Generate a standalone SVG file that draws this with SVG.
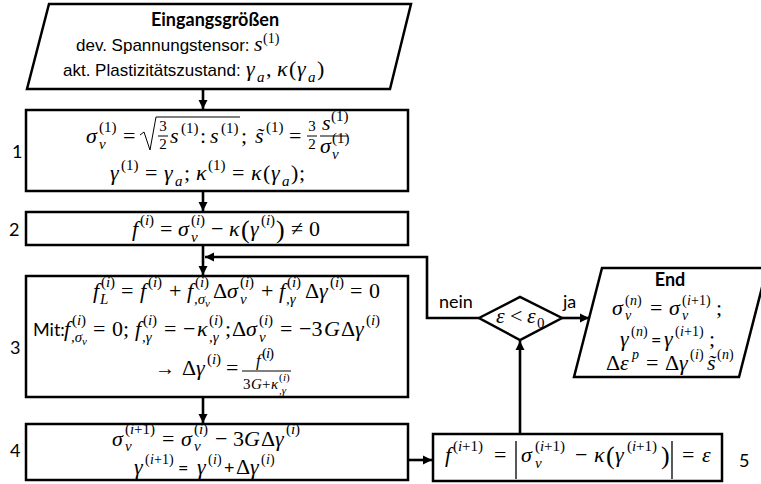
<svg xmlns="http://www.w3.org/2000/svg" width="761" height="484" viewBox="0 0 761 484">
<style>
.bx{fill:#fff;stroke:#000;stroke-width:2.5}
.ln{fill:none;stroke:#000;stroke-width:2.6}
.th{fill:none;stroke:#000;stroke-width:1}
.m{font-family:'Liberation Serif','Times New Roman',serif;font-size:22px;font-style:italic;fill:#000}
.u{font-style:normal}
.s{font-size:15px}
.e{font-size:14px}
.ss{font-size:11px}
.t{font-family:'Liberation Sans',Arial,sans-serif;font-size:17px;fill:#000}
.c{font-family:Lato,'Liberation Sans',sans-serif;font-size:18px;fill:#000}
.bd{font-weight:bold}
</style>
<defs>
<marker id="ah" markerUnits="userSpaceOnUse" markerWidth="10" markerHeight="10" refX="9" refY="5" orient="auto">
<path d="M0,0.5 L9,5 L0,9.5 z" fill="#000"/>
</marker>
</defs>

<g id="connectors">
<line class="ln" x1="203" y1="89" x2="203" y2="109" marker-end="url(#ah)"/>
<line class="ln" x1="203" y1="191" x2="203" y2="211" marker-end="url(#ah)"/>
<line class="ln" x1="203" y1="245" x2="203" y2="275" marker-end="url(#ah)"/>
<polyline class="ln" points="479,318 427,318 427,257 205,257" marker-end="url(#ah)"/>
<line class="ln" x1="203" y1="397" x2="203" y2="423" marker-end="url(#ah)"/>
<line class="ln" x1="408" y1="460" x2="432" y2="460" marker-end="url(#ah)"/>
<line class="ln" x1="520" y1="434" x2="520" y2="341" marker-end="url(#ah)"/>
<line class="ln" x1="562" y1="318" x2="589" y2="318" marker-end="url(#ah)"/>
<text class="c" x="439" y="308">nein</text>
<text class="c" x="563" y="308">ja</text>
</g>

<g id="input">
<polygon class="bx" points="49,4 411,4 390,89 27,89"/>
<text class="c bd" x="215" y="26" text-anchor="middle">Eingangsgrößen</text>
<text class="t" x="76" y="51">dev. Spannungstensor:</text>
<text class="m"><tspan x="254" y="51">s</tspan><tspan class="u e" x="263" y="43">(1)</tspan></text>
<text class="t" x="63" y="76">akt. Plastizitätszustand:</text>
<text class="m"><tspan x="246" y="76">γ</tspan><tspan class="s" x="257" y="82">a</tspan><tspan class="u" x="266" y="76">,</tspan><tspan x="277" y="76">κ</tspan><tspan class="u" x="289" y="76">(</tspan><tspan x="297" y="76">γ</tspan><tspan class="s" x="308" y="82">a</tspan><tspan class="u" x="317" y="76">)</tspan></text>
</g>

<g id="step1">
<rect class="bx" x="26" y="110" width="382" height="81"/>
<text class="c" x="12" y="158">1</text>
<text class="m"><tspan x="86" y="143">σ</tspan><tspan class="s" x="99" y="149">v</tspan><tspan class="u s" x="99" y="132">(1)</tspan><tspan class="u" x="123" y="143">=</tspan><tspan x="170" y="143">s</tspan><tspan class="u s" x="181" y="133">(1)</tspan><tspan class="u" x="200" y="143">:</tspan><tspan x="210" y="143">s</tspan><tspan class="u s" x="221" y="133">(1)</tspan><tspan class="u" x="241" y="143">;</tspan><tspan x="255" y="143">s̃</tspan><tspan class="u s" x="266" y="132">(1)</tspan><tspan class="u" x="289" y="143">=</tspan></text>
<path class="th" d="M140,135 L144,132 L150,150 L156,117 L240,117"/>
<text class="m u s" text-anchor="middle"><tspan x="163" y="131">3</tspan><tspan x="163" y="149">2</tspan><tspan x="312" y="131">3</tspan><tspan x="312" y="149">2</tspan></text>
<path class="th" d="M158,136 H168 M307,136 H317 M320,136 H348"/>
<text class="m" font-size="19"><tspan x="322" y="130">s</tspan><tspan class="u s" x="331" y="121" font-size="13">(1)</tspan><tspan x="320" y="153">σ</tspan><tspan class="s" x="332" y="159" font-size="13">v</tspan><tspan class="u s" x="332" y="143" font-size="13">(1)</tspan></text>
<text class="m"><tspan x="110" y="180">γ</tspan><tspan class="u s" x="121" y="170">(1)</tspan><tspan class="u" x="145" y="180">=</tspan><tspan x="164" y="180">γ</tspan><tspan class="s" x="175" y="186">a</tspan><tspan class="u" x="184" y="180">;</tspan><tspan x="196" y="180">κ</tspan><tspan class="u s" x="208" y="170">(1)</tspan><tspan class="u" x="232" y="180">=</tspan><tspan x="251" y="180">κ</tspan><tspan class="u" x="263" y="180">(</tspan><tspan x="271" y="180">γ</tspan><tspan class="s" x="282" y="186">a</tspan><tspan class="u" x="291" y="180">)</tspan><tspan class="u" x="299" y="180">;</tspan></text>
</g>

<g id="step2">
<rect class="bx" x="26" y="212" width="382" height="33"/>
<text class="c" x="9" y="236">2</text>
<text class="m"><tspan x="132" y="236">f</tspan><tspan class="u s" x="140" y="225">(</tspan><tspan class="s" x="145" y="225">i</tspan><tspan class="u s" x="149" y="225">)</tspan><tspan class="u" x="160" y="236">=</tspan><tspan x="178" y="236">σ</tspan><tspan class="s" x="191" y="242">v</tspan><tspan class="u s" x="191" y="225">(</tspan><tspan class="s" x="196" y="225">i</tspan><tspan class="u s" x="200" y="225">)</tspan><tspan class="u" x="211" y="236">−</tspan><tspan x="229" y="236">κ</tspan><tspan class="u" x="241" y="238" font-size="26">(</tspan><tspan x="250" y="236">γ</tspan><tspan class="u s" x="261" y="225">(</tspan><tspan class="s" x="266" y="225">i</tspan><tspan class="u s" x="270" y="225">)</tspan><tspan class="u" x="276" y="238" font-size="26">)</tspan><tspan class="u" x="291" y="236">≠</tspan><tspan class="u" x="309" y="236">0</tspan></text>
</g>

<g id="step3">
<rect class="bx" x="26" y="276" width="382" height="121"/>
<text class="c" x="10" y="354">3</text>
<text class="m">
<tspan x="93" y="298">f</tspan><tspan class="s" x="100" y="304">L</tspan><tspan class="u s" x="101" y="287">(</tspan><tspan class="s" x="106" y="287">i</tspan><tspan class="u s" x="110" y="287">)</tspan>
<tspan class="u" x="121" y="298">=</tspan>
<tspan x="140" y="298">f</tspan><tspan class="u s" x="148" y="287">(</tspan><tspan class="s" x="153" y="287">i</tspan><tspan class="u s" x="157" y="287">)</tspan>
<tspan class="u" x="169" y="298">+</tspan>
<tspan x="187" y="298">f</tspan><tspan class="s" x="194" y="304">,σ</tspan><tspan class="ss" x="205" y="307">v</tspan><tspan class="u s" x="195" y="287">(</tspan><tspan class="s" x="200" y="287">i</tspan><tspan class="u s" x="204" y="287">)</tspan>
<tspan class="u" x="213" y="298">Δ</tspan><tspan x="227" y="298">σ</tspan><tspan class="s" x="240" y="304">v</tspan><tspan class="u s" x="240" y="287">(</tspan><tspan class="s" x="245" y="287">i</tspan><tspan class="u s" x="249" y="287">)</tspan>
<tspan class="u" x="261" y="298">+</tspan>
<tspan x="279" y="298">f</tspan><tspan class="s" x="286" y="304">,γ</tspan><tspan class="u s" x="287" y="287">(</tspan><tspan class="s" x="292" y="287">i</tspan><tspan class="u s" x="296" y="287">)</tspan>
<tspan class="u" x="305" y="298">Δ</tspan><tspan x="319" y="298">γ</tspan><tspan class="u s" x="330" y="287">(</tspan><tspan class="s" x="335" y="287">i</tspan><tspan class="u s" x="339" y="287">)</tspan>
<tspan class="u" x="350" y="298">=</tspan><tspan class="u" x="369" y="298">0</tspan>
</text>
<text class="c" x="33" y="336">Mit:</text>
<text class="m">
<tspan x="64" y="336">f</tspan><tspan class="s" x="71" y="342">,σ</tspan><tspan class="ss" x="82" y="345">v</tspan><tspan class="u s" x="72" y="325">(</tspan><tspan class="s" x="77" y="325">i</tspan><tspan class="u s" x="81" y="325">)</tspan>
<tspan class="u" x="93" y="336">=</tspan><tspan class="u" x="112" y="336">0;</tspan>
<tspan x="135" y="336">f</tspan><tspan class="s" x="142" y="342">,γ</tspan><tspan class="u s" x="143" y="325">(</tspan><tspan class="s" x="148" y="325">i</tspan><tspan class="u s" x="152" y="325">)</tspan>
<tspan class="u" x="164" y="336">=</tspan><tspan class="u" x="183" y="336">−</tspan>
<tspan x="197" y="336">κ</tspan><tspan class="s" x="209" y="342">,γ</tspan><tspan class="u s" x="209" y="325">(</tspan><tspan class="s" x="214" y="325">i</tspan><tspan class="u s" x="218" y="325">)</tspan><tspan class="u" x="225" y="336">;</tspan>
<tspan class="u" x="232" y="336">Δ</tspan><tspan x="246" y="336">σ</tspan><tspan class="s" x="259" y="342">v</tspan><tspan class="u s" x="259" y="325">(</tspan><tspan class="s" x="264" y="325">i</tspan><tspan class="u s" x="268" y="325">)</tspan>
<tspan class="u" x="280" y="336">=</tspan><tspan class="u" x="299" y="336">−3</tspan><tspan x="324" y="336">G</tspan><tspan class="u" x="341" y="336">Δ</tspan><tspan x="355" y="336">γ</tspan><tspan class="u s" x="366" y="325">(</tspan><tspan class="s" x="371" y="325">i</tspan><tspan class="u s" x="375" y="325">)</tspan>
</text>
<text class="m">
<tspan class="u" x="155" y="375" font-size="20">→</tspan>
<tspan class="u" x="182" y="375">Δ</tspan><tspan x="196" y="375">γ</tspan><tspan class="u s" x="207" y="364">(</tspan><tspan class="s" x="212" y="364">i</tspan><tspan class="u s" x="216" y="364">)</tspan>
<tspan class="u" x="226" y="375">=</tspan>
<tspan x="256" y="366" font-size="17">f</tspan><tspan class="u s" x="262" y="358" font-size="12">(</tspan><tspan class="s" x="266" y="358" font-size="12">i</tspan><tspan class="u s" x="269" y="358" font-size="12">)</tspan>
<tspan class="u s" x="243" y="389">3</tspan><tspan class="s" x="251" y="389">G</tspan><tspan class="u s" x="262" y="389">+</tspan><tspan class="s" x="271" y="389">κ</tspan><tspan class="ss" x="279" y="394">,γ</tspan><tspan class="u ss" x="279" y="381">(</tspan><tspan class="ss" x="283" y="381">i</tspan><tspan class="u ss" x="286" y="381">)</tspan>
</text>
<path class="th" d="M242,371 H291"/>
</g>

<g id="step4">
<rect class="bx" x="26" y="424" width="382" height="56"/>
<text class="c" x="10" y="457">4</text>
<text class="m">
<tspan x="112" y="446">σ</tspan><tspan class="s" x="125" y="451">v</tspan><tspan class="u s" x="125" y="434">(</tspan><tspan class="s" x="130" y="434">i</tspan><tspan class="u s" x="134" y="434">+1)</tspan>
<tspan class="u" x="162" y="446">=</tspan>
<tspan x="181" y="446">σ</tspan><tspan class="s" x="194" y="451">v</tspan><tspan class="u s" x="194" y="434">(</tspan><tspan class="s" x="199" y="434">i</tspan><tspan class="u s" x="203" y="434">)</tspan>
<tspan class="u" x="215" y="446">−</tspan><tspan class="u" x="233" y="446">3</tspan><tspan x="244" y="446">G</tspan><tspan class="u" x="261" y="446">Δ</tspan><tspan x="275" y="446">γ</tspan><tspan class="u s" x="286" y="434">(</tspan><tspan class="s" x="291" y="434">i</tspan><tspan class="u s" x="295" y="434">)</tspan>
</text>
<text class="m">
<tspan x="134" y="474">γ</tspan><tspan class="u e" x="145" y="464">(</tspan><tspan class="e" x="150" y="464">i</tspan><tspan class="u e" x="154" y="464">+1)</tspan>
<tspan x="197" y="474">γ</tspan><tspan class="u e" x="208" y="464">(</tspan><tspan class="e" x="213" y="464">i</tspan><tspan class="u e" x="217" y="464">)</tspan>
<tspan class="u" x="236" y="474">Δ</tspan><tspan x="250" y="474">γ</tspan><tspan class="u e" x="261" y="464">(</tspan><tspan class="e" x="266" y="464">i</tspan><tspan class="u e" x="270" y="464">)</tspan>
</text>
<text class="c" font-size="16"><tspan x="178" y="474">=</tspan><tspan x="224" y="474">+</tspan></text>
</g>

<g id="step5">
<rect class="bx" x="433" y="434" width="289" height="47"/>
<text class="c" x="739" y="467">5</text>
<text class="m">
<tspan x="445" y="462">f</tspan><tspan class="u s" x="453" y="451">(</tspan><tspan class="s" x="458" y="451">i</tspan><tspan class="u s" x="462" y="451">+1)</tspan>
<tspan class="u" x="494" y="462">=</tspan>
<tspan x="521" y="462">σ</tspan><tspan class="s" x="535" y="468">v</tspan><tspan class="u s" x="535" y="451">(</tspan><tspan class="s" x="540" y="451">i</tspan><tspan class="u s" x="544" y="451">+1)</tspan>
<tspan class="u" x="575" y="462">−</tspan>
<tspan x="594" y="462">κ</tspan><tspan class="u" x="606" y="464" font-size="26">(</tspan><tspan x="615" y="462">γ</tspan><tspan class="u s" x="627" y="451">(</tspan><tspan class="s" x="632" y="451">i</tspan><tspan class="u s" x="636" y="451">+1)</tspan><tspan class="u" x="661" y="464" font-size="26">)</tspan>
<tspan class="u" x="682" y="462">=</tspan><tspan x="702" y="462">ε</tspan>
</text>
<path d="M516,441 V479 M672,441 V479" stroke="#000" stroke-width="1.3"/>
</g>

<g id="decision">
<polygon class="bx" points="479,318 520,297 562,318 520,340"/>
<text class="m" font-size="20"><tspan x="496" y="323">ε</tspan><tspan class="u" x="510" y="323">&lt;</tspan><tspan x="527" y="323">ε</tspan><tspan class="u s" x="537" y="328" font-size="14">0</tspan></text>
</g>

<g id="end">
<polygon class="bx" points="602,268 767,268 739,377 574,377"/>
<text class="c bd" x="670" y="286" text-anchor="middle">End</text>
<text class="m">
<tspan x="612" y="315">σ</tspan><tspan class="e" x="625" y="320" font-size="13">v</tspan><tspan class="u e" x="625" y="305">(</tspan><tspan class="e" x="630" y="305">n</tspan><tspan class="u e" x="637" y="305">)</tspan>
<tspan class="u" x="650" y="315">=</tspan>
<tspan x="669" y="315">σ</tspan><tspan class="e" x="682" y="320" font-size="13">v</tspan><tspan class="u e" x="682" y="305">(</tspan><tspan class="e" x="687" y="305">i</tspan><tspan class="u e" x="691" y="305">+1)</tspan><tspan class="u" x="716" y="315">;</tspan>
</text>
<text class="m">
<tspan x="620" y="346">γ</tspan><tspan class="u e" x="631" y="336">(</tspan><tspan class="e" x="636" y="336">n</tspan><tspan class="u e" x="643" y="336">)</tspan>
<tspan x="664" y="346">γ</tspan><tspan class="u e" x="675" y="336">(</tspan><tspan class="e" x="680" y="336">i</tspan><tspan class="u e" x="684" y="336">+1)</tspan><tspan class="u" x="709" y="346">;</tspan>
</text>
<text class="c" font-size="16" x="651" y="346">=</text>
<text class="m">
<tspan class="u" x="606" y="370">Δ</tspan><tspan x="620" y="370">ε</tspan><tspan class="e" x="632" y="359">p</tspan>
<tspan class="u" x="646" y="370">=</tspan>
<tspan class="u" x="665" y="370">Δ</tspan><tspan x="679" y="370">γ</tspan><tspan class="u e" x="690" y="359">(</tspan><tspan class="e" x="695" y="359">i</tspan><tspan class="u e" x="699" y="359">)</tspan>
<tspan x="707" y="370">s̃</tspan><tspan class="u e" x="717" y="359">(</tspan><tspan class="e" x="722" y="359">n</tspan><tspan class="u e" x="729" y="359">)</tspan>
</text>
</g>
</svg>
